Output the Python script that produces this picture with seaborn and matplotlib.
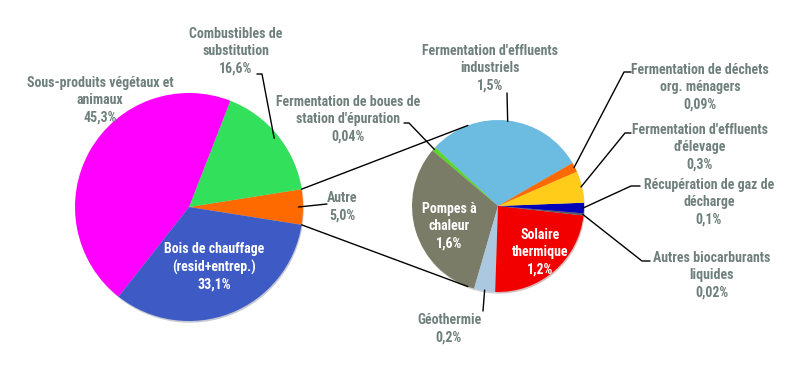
import numpy as np
import seaborn as sns
import matplotlib.pyplot as plt

# main pie (counter-clockwise from "Autre")
main_labels = ['Autre', 'Combustibles de\nsubstitution', 'Sous-produits végétaux et\nanimaux',
               'Bois de chauffage\n(resid+entrep.)']
main_values = [5.0, 16.6, 45.3, 33.1]
main_colors = ['#ff6a00', '#33e05c', '#ff00ff', '#3e5bc5']

# detail of "Autre" (counter-clockwise)
detail_labels = ["Fermentation d'effluents\nindustriels", "Fermentation de boues de\nstation d'épuration",
                 'Pompes à\nchaleur', 'Géothermie', 'Solaire\nthermique', 'Autres biocarburants\nliquides',
                 'Récupération de gaz de\ndécharge', "Fermentation d'effluents\nd'élevage",
                 'Fermentation de déchets\norg. ménagers']
detail_values = [1.5, 0.04, 1.6, 0.2, 1.2, 0.02, 0.1, 0.3, 0.09]
detail_colors = ['#6cbbe0', '#5cd62a', '#7b7c68', '#abc8e0', '#f20000', '#5a5a5a', '#0000b8', '#ffcc1a', '#ff6a00']

W, H = 800, 372
GREY = '#6f807c'


def fmt(v):
    s = f'{v:.2f}' if v < 0.1 else f'{v:.1f}'
    return s.replace('.', ',') + '%'


def Y(y):
    return H - y


sns.set_style('white')
plt.rcParams['font.family'] = ['Roboto Condensed', 'PT Sans Narrow', 'DejaVu Sans']

fig = plt.figure(figsize=(8, 3.72), dpi=100)
ax = fig.add_axes([0, 0, 1, 1])

c1, r1 = (189, Y(207)), 114
c2, r2 = (498, Y(206)), 86
shadow = {'ox': 0.6, 'oy': -1.2, 'shade': 0.6, 'alpha': 0.25}

w1, _ = ax.pie(main_values, colors=main_colors, startangle=-9, center=c1, radius=r1,
               shadow=shadow, wedgeprops=dict(linewidth=0))
w2, _ = ax.pie(detail_values, colors=detail_colors, startangle=30, center=c2, radius=r2,
               shadow=shadow, wedgeprops=dict(linewidth=0))

# pie() resets the limits, so set them afterwards
ax.set_xlim(0, W)
ax.set_ylim(0, H)
ax.set_aspect('equal')
ax.axis('off')


def on_circle(c, r, ang):
    a = np.deg2rad(ang)
    return c[0] + r * np.cos(a), c[1] + r * np.sin(a)


# lines joining "Autre" to the detail pie
autre = w1[0]
for a1, a2 in [(autre.theta2, 110.5), (autre.theta1, 249.5)]:
    p = on_circle(c1, r1, a1)
    q = on_circle(c2, r2, a2)
    ax.plot([p[0], q[0]], [p[1], q[1]], color='black', lw=1, zorder=5)

# label layout: text centre (image px), colour, leader path (image px)
main_layout = [
    ((342, 207), GREY, [(327, 204)]),
    ((236, 51), GREY, [(257, 74), (262, 74)]),
    ((100, 100), GREY, None),
    ((214, 267), 'white', None),
]
detail_layout = [
    ((490, 68), GREY, [(507, 93)]),
    ((348, 119), GREY, [(404, 123), (409, 123)]),
    ((449, 226), 'white', None),
    ((449, 329), GREY, [(483, 311)]),
    ((540, 252), 'white', None),
    ((712, 275), GREY, [(650, 261), (642, 261)]),
    ((709, 202), GREY, [(640, 186), (631, 186)]),
    ((700, 147), GREY, [(631, 133), (625, 133)]),
    ((700, 87), GREY, [(631, 72), (624, 72)]),
]


def draw_labels(wedges, labels, values, layout, c, r, rfrac):
    for w, lab, v, (pos, col, path) in zip(wedges, labels, values, layout):
        ax.text(pos[0], Y(pos[1]), f'{lab}\n{fmt(v)}', ha='center', va='center', color=col,
                fontsize=10, fontweight='bold', linespacing=1.28, zorder=6)
        if path:
            mid = (w.theta1 + w.theta2) / 2
            end = on_circle(c, r * rfrac, mid)
            xs = [p[0] for p in path] + [end[0]]
            ys = [Y(p[1]) for p in path] + [end[1]]
            ax.plot(xs, ys, color='black', lw=1, zorder=5)


draw_labels(w1, main_labels, main_values, main_layout, c1, r1, 0.96)
draw_labels(w2, detail_labels, detail_values, detail_layout, c2, r2, 0.99)

fig.savefig('out.png', dpi=100)
